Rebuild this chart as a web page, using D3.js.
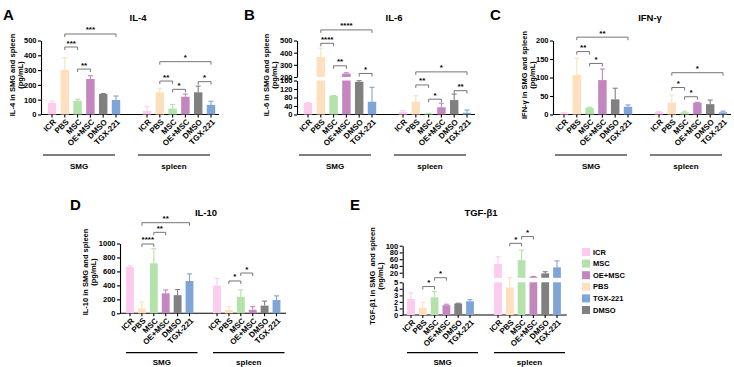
<!DOCTYPE html>
<html>
<head>
<meta charset="utf-8">
<script src="https://d3js.org/d3.v7.min.js"></script>
<style>
  body { margin: 0; background: #fff; }
  text { font-family: "Liberation Sans", Arial, sans-serif; font-weight: bold; fill: #000; }
  .axis path, .axis line { stroke: #000; stroke-width: 1.1px; }
  .axis text { font-size: 7.5px; }
  .bracket { fill: none; stroke: #666; stroke-width: 0.9px; }
</style>
</head>
<body>
<script>

    const groups = ["ICR", "PBS", "MSC", "OE+MSC", "DMSO", "TGX-221"];
    const groupColors = ["#fccbef", "#ffdfbd", "#b3e2ab", "#c486bf", "#808080", "#7fa5d6"];
    const tissues = ["SMG", "spleen"];
    const legendOrder = ["ICR", "MSC", "OE+MSC", "PBS", "TGX-221", "DMSO"];

    // IL-4 (pg/mL): bar height and top of error bar, one per group
    const il4Smg = [78, 301, 93, 240, 139, 98];
    const il4SmgErr = [90, 384, 103, 262, 141, 125];
    const il4Spleen = [23, 150, 40, 120, 150, 65];
    const il4SpleenErr = [56, 177, 68, 138, 192, 90];
    // [tissue, from group, to group, stars, bracket height]
    const il4Sig = [["SMG", 1, 5, "***", 544], ["SMG", 1, 2, "***", 456], ["SMG", 2, 3, "**", 307],
        ["spleen", 1, 5, "*", 357], ["spleen", 1, 2, "**", 226], ["spleen", 2, 3, "*", 170], ["spleen", 4, 5, "*", 222]];
    const il4Ticks = [0, 100, 200, 300, 400, 500];

    // IL-6 (pg/mL), broken axis
    const il6Smg = [54, 365, 88, 228, 154, 60];
    const il6SmgErr = [56, 437, 90, 235, 159, 128];
    const il6Spleen = [13, 60, 5, 34, 68, 8];
    const il6SpleenErr = [18, 88, 6, 53, 96, 21];
    const il6Sig = [["SMG", 1, 5, "****", 587], ["SMG", 1, 2, "****", 477], ["SMG", 2, 3, "**", 292], ["SMG", 4, 5, "*", 229],
        ["spleen", 1, 5, "*", 242], ["spleen", 1, 2, "**", 139], ["spleen", 2, 3, "*", 72], ["spleen", 4, 5, "**", 112]];
    const il6TicksLow = [0, 40, 80, 120, 160];
    const il6TicksHigh = [200, 300, 400, 500];

    // IFN-γ (pg/mL)
    const ifnSmg = [3, 107, 18, 93, 41, 21];
    const ifnSmgErr = [5, 152, 20, 123, 71, 26];
    const ifnSpleen = [7, 32, 6, 32, 28, 6];
    const ifnSpleenErr = [8, 53, 9, 33, 39, 9];
    const ifnSig = [["SMG", 1, 5, "**", 209], ["SMG", 1, 2, "**", 170], ["SMG", 2, 3, "*", 138],
        ["spleen", 1, 5, "*", 113], ["spleen", 1, 2, "*", 73], ["spleen", 2, 3, "*", 48]];
    const ifnTicks = [0, 50, 100, 150, 200];

    // IL-10 (pg/mL)
    const il10Smg = [665, 70, 716, 286, 260, 463];
    const il10SmgErr = [680, 160, 925, 335, 340, 565];
    const il10Spleen = [396, 47, 238, 50, 110, 190];
    const il10SpleenErr = [501, 95, 334, 95, 175, 250];
    const il10Sig = [["SMG", 1, 5, "**", 1298], ["SMG", 2, 3, "**", 1160], ["SMG", 1, 2, "****", 993],
        ["spleen", 1, 2, "*", 463], ["spleen", 2, 3, "*", 577]];
    const il10Ticks = [0, 200, 400, 600, 800, 1000];

    // TGF-β1 (ng/mL), broken axis
    const tgfSmg = [2.45, 1.1, 2.7, 1.5, 1.75, 2.1];
    const tgfSmgErr = [3.4, 1.9, 3.6, 1.65, 1.8, 2.35];
    const tgfSpleen = [46, 4.2, 57, 8, 18, 36];
    const tgfSpleenErr = [67, 5.5, 87, 9, 23, 55];
    const tgfSig = [["SMG", 1, 2, "*", 4.35], ["SMG", 2, 3, "*", 5.3], ["spleen", 1, 2, "*", 107], ["spleen", 2, 3, "*", 127]];
    const tgfTicksLow = [0, 1, 2, 3, 4, 5];
    const tgfTicksHigh = [20, 40, 60, 80, 100];

    var svg = d3.select("body").append("svg")
        .attr("width", 734)
        .attr("height", 367);

    // value -> px over a (possibly) broken axis
    function splitY(lo, hi) {
        return function (v) {
            if (!hi || v <= lo.domain()[1]) return lo(v);
            if (v >= hi.domain()[0]) return hi(v);
            var t = (v - lo.domain()[1]) / (hi.domain()[0] - lo.domain()[1]);
            return lo.range()[1] + t * (hi.range()[0] - lo.range()[1]);
        };
    }

    function barSegments(v, lo, hi) {
        if (!hi || v <= lo.domain()[1]) return [[lo(0), lo(v)]];
        return [[lo(0), lo(lo.domain()[1])], [hi(hi.domain()[0]), hi(v)]];
    }

    function drawPanel(p) {
        var g = svg.append("g");
        var y = splitY(p.lo, p.hi);
        var base = p.lo(0);
        var xs = tissues.map(function (t, k) {
            return d3.scaleLinear().domain([0, 5])
                .range([p.x0 + k * p.gOff, p.x0 + k * p.gOff + 5 * p.step]);
        });
        var bw = p.step * 0.66;

        // letter + title
        g.append("text").attr("x", p.letter[0]).attr("y", p.letter[1])
            .style("font-size", "15px").text(p.name);
        g.append("text").attr("x", p.title[0]).attr("y", p.title[1])
            .attr("text-anchor", "middle").style("font-size", "9.5px").text(p.titleText);

        // y title (two lines)
        p.yTitle.forEach(function (s, i) {
            g.append("text")
                .attr("transform", "translate(" + p.yTitleX[i] + "," + p.yTitleY + ") rotate(-90)")
                .attr("text-anchor", "middle").attr("dy", "0.35em")
                .style("font-size", "7.5px").style("white-space", "pre")
                .text(s);
        });

        // y axes
        g.append("g").attr("class", "axis")
            .attr("transform", "translate(" + p.axisX + ",0)")
            .call(d3.axisLeft(p.lo).tickValues(p.ticksLow).tickFormat(d3.format("d"))
                .tickSize(3).tickSizeOuter(0).tickPadding(1.5));
        if (p.hi) {
            g.append("g").attr("class", "axis")
                .attr("transform", "translate(" + p.axisX + ",0)")
                .call(d3.axisLeft(p.hi).tickValues(p.ticksHigh).tickFormat(d3.format("d"))
                    .tickSize(3).tickSizeOuter(0).tickPadding(1.5));
        }

        // x axis line
        g.append("line").attr("x1", p.axisX).attr("x2", p.axisEnd)
            .attr("y1", base).attr("y2", base)
            .attr("stroke", "#000").attr("stroke-width", 1.1);

        tissues.forEach(function (t, k) {
            var vals = p.values[k], errs = p.errs[k], x = xs[k];

            vals.forEach(function (v, i) {
                var cx = x(i);
                barSegments(v, p.lo, p.hi).forEach(function (s) {
                    g.append("rect")
                        .attr("x", cx - bw / 2).attr("y", s[1])
                        .attr("width", bw).attr("height", Math.max(0, s[0] - s[1]))
                        .attr("fill", groupColors[i]);
                });
                // error bar
                g.append("line").attr("x1", cx).attr("x2", cx)
                    .attr("y1", y(v)).attr("y2", y(errs[i]))
                    .attr("stroke", groupColors[i]).attr("stroke-width", 1.1);
                g.append("line").attr("x1", cx - 2.5).attr("x2", cx + 2.5)
                    .attr("y1", y(errs[i])).attr("y2", y(errs[i]))
                    .attr("stroke", groupColors[i]).attr("stroke-width", 1.1);
                // x tick + label
                g.append("line").attr("x1", cx).attr("x2", cx)
                    .attr("y1", base).attr("y2", base + 3)
                    .attr("stroke", "#000").attr("stroke-width", 1.1);
                g.append("text")
                    .attr("transform", "translate(" + (cx + 2.5) + "," + (base + 6) + ") rotate(-45)")
                    .attr("text-anchor", "end").attr("dy", "0.35em")
                    .style("font-size", "8px")
                    .text(groups[i]);
            });

            // group line + label
            var l1 = x(0) + p.lineOff[0], l2 = x(5) + p.lineOff[1];
            g.append("line").attr("x1", l1).attr("x2", l2)
                .attr("y1", p.groupLineY).attr("y2", p.groupLineY)
                .attr("stroke", "#000").attr("stroke-width", 1.2);
            g.append("text").attr("x", (l1 + l2) / 2).attr("y", p.groupLabelY)
                .attr("text-anchor", "middle").style("font-size", "8px").text(t);
        });

        // significance brackets
        p.sig.forEach(function (s) {
            var x = xs[tissues.indexOf(s[0])];
            var x1 = x(s[1]), x2 = x(s[2]), yy = y(s[4]);
            g.append("path").attr("class", "bracket")
                .attr("d", "M" + x1 + "," + (yy + 3) + "V" + yy + "H" + x2 + "V" + (yy + 3));
            g.append("text").attr("x", (x1 + x2) / 2).attr("y", yy - 1.5)
                .attr("text-anchor", "middle").style("font-size", "8px").text(s[3]);
        });
    }

    var topLayout = {axisEnd: 219, x0: 52, step: 12.8, gOff: 95, lineOff: [-9, -1],
        groupLineY: 155, groupLabelY: 169, yTitleY: 75};

    drawPanel(Object.assign({}, topLayout, {
        name: "A", letter: [3, 20], titleText: "IL-4", title: [138, 21],
        yTitle: ["IL-4 in SMG and spleen", "(pg/mL)"], yTitleX: [12, 20.5], axisX: 41,
        lo: d3.scaleLinear().domain([0, 500]).range([114.5, 40.5]), hi: null, ticksLow: il4Ticks,
        values: [il4Smg, il4Spleen], errs: [il4SmgErr, il4SpleenErr], sig: il4Sig
    }));

    drawPanel(Object.assign({}, topLayout, {
        name: "B", letter: [244, 20], titleText: "IL-6", title: [394, 21],
        yTitle: ["IL-6 in SMG and spleen", "(pg/mL)"], yTitleX: [266, 274.5], axisX: 297,
        axisEnd: 475, x0: 308,
        lo: d3.scaleLinear().domain([0, 160]).range([114.5, 80.5]),
        hi: d3.scaleLinear().domain([200, 500]).range([77, 40.5]),
        ticksLow: il6TicksLow, ticksHigh: il6TicksHigh,
        values: [il6Smg, il6Spleen], errs: [il6SmgErr, il6SpleenErr], sig: il6Sig
    }));

    drawPanel(Object.assign({}, topLayout, {
        name: "C", letter: [490, 20], titleText: "IFN-γ", title: [650, 21],
        yTitle: ["IFN-γ in SMG and spleen", "(pg/mL)"], yTitleX: [524, 532.5], axisX: 553,
        axisEnd: 731, x0: 564,
        lo: d3.scaleLinear().domain([0, 200]).range([114.5, 40.5]), hi: null, ticksLow: ifnTicks,
        values: [ifnSmg, ifnSpleen], errs: [ifnSmgErr, ifnSpleenErr], sig: ifnSig
    }));

    var bottomLayout = {step: 11.9, gOff: 87, lineOff: [-4, 8], groupLineY: 352.7, groupLabelY: 365};

    drawPanel(Object.assign({}, bottomLayout, {
        name: "D", letter: [70, 210], titleText: "IL-10", title: [206, 216],
        yTitle: ["IL-10 in SMG and spleen", "(pg/mL)"], yTitleX: [85, 93.5], yTitleY: 272,
        axisX: 120, axisEnd: 286, x0: 130,
        lo: d3.scaleLinear().domain([0, 1000]).range([313.3, 243.5]), hi: null, ticksLow: il10Ticks,
        values: [il10Smg, il10Spleen], errs: [il10SmgErr, il10SpleenErr], sig: il10Sig
    }));

    drawPanel(Object.assign({}, bottomLayout, {
        name: "E", letter: [350, 210], titleText: "TGF-β1", title: [481, 216],
        yTitle: ["TGF-β1 in SMG  and spleen", "(ng/mL)"], yTitleX: [372, 380.5], yTitleY: 276,
        axisX: 402.7, axisEnd: 566.7, x0: 411, step: 11.8,
        lo: d3.scaleLinear().domain([0, 5]).range([315, 282.3]),
        hi: d3.scaleLinear().domain([5, 100]).range([277.8, 245.7]),
        ticksLow: tgfTicksLow, ticksHigh: tgfTicksHigh,
        values: [tgfSmg, tgfSpleen], errs: [tgfSmgErr, tgfSpleenErr], sig: tgfSig
    }));

    // legend
    var legend = svg.append("g").attr("transform", "translate(582,252)");
    legendOrder.forEach(function (name, i) {
        var row = legend.append("g").attr("transform", "translate(0," + (i * 11.6) + ")");
        row.append("rect").attr("x", 0).attr("y", -4).attr("width", 8).attr("height", 8)
            .attr("fill", groupColors[groups.indexOf(name)]);
        row.append("text").attr("x", 11).attr("dy", "0.35em").style("font-size", "7.5px").text(name);
    });

</script>
</body>
</html>
